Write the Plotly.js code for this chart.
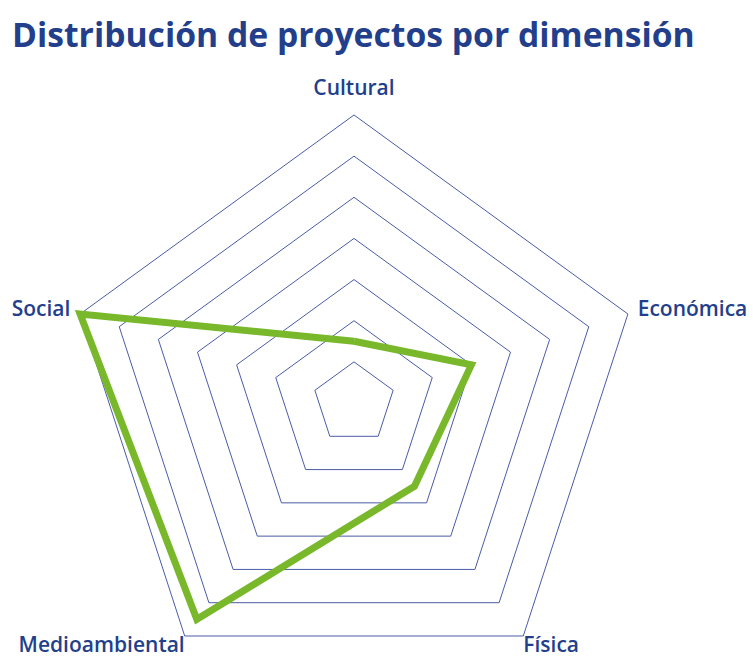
<!DOCTYPE html>
<html>
<head>
<meta charset="utf-8">
<script src="https://cdn.plot.ly/plotly-3.0.1.min.js"></script>
<style>
  html, body { margin: 0; padding: 0; overflow: hidden; background: #fff; }
  #chart { width: 755px; height: 740px; }
</style>
</head>
<body>
<div id="chart"></div>
<script>
// dimensiones y numero de proyectos
const dimensiones = ['Cultural', 'Económica', 'Física', 'Medioambiental', 'Social'];
const proyectos = [3, 6, 5, 13, 14];
const maximo = 14;

// donde va cada etiqueta (radio en unidades del eje y posicion del texto)
const radioEtiqueta = [15.25, 14.5, 14.0, 14.0, 14.5];
const posEtiqueta = ['middle center', 'middle right', 'bottom right', 'bottom left', 'middle left'];

const azul = '#233f8c';
const verde = '#78b82a';
const rejilla = '#4a5ca6';

// el eje llega un poco mas alla del maximo para dejar sitio a las etiquetas
const rangoMax = 15.5;
const H = 740;
const cx = 354, cy = 403, radioPx = 288 * rangoMax / maximo;

// cerrar el poligono
const theta = dimensiones.concat([dimensiones[0]]);
const r = proyectos.concat([proyectos[0]]);

const linea = {
  type: 'scatterpolar',
  mode: 'lines',
  r: r,
  theta: theta,
  line: { color: verde, width: 7 },
  showlegend: false
};

// etiquetas de las dimensiones, puestas con la escala polar
const etiquetas = {
  type: 'scatterpolar',
  mode: 'text',
  r: radioEtiqueta,
  theta: dimensiones,
  text: dimensiones,
  textposition: posEtiqueta,
  textfont: { family: 'Open Sans', size: 21, color: azul, weight: 600 },
  cliponaxis: false,
  showlegend: false
};

const layout = {
  width: 755,
  height: H,
  margin: { l: 0, r: 0, t: 0, b: 0 },
  paper_bgcolor: '#fff',
  title: {
    text: 'Distribución de proyectos por dimensión',
    x: 12 / 755,
    xanchor: 'left',
    xref: 'container',
    y: 1 - 35 / H,
    yanchor: 'middle',
    yref: 'container',
    font: { family: 'Open Sans', size: 33.7, color: azul, weight: 700 }
  },
  polar: {
    domain: {
      x: [(cx - radioPx) / 755, (cx + radioPx) / 755],
      y: [(H - cy - radioPx) / H, (H - cy + radioPx) / H]
    },
    gridshape: 'linear',
    bgcolor: 'rgba(0,0,0,0)',
    radialaxis: {
      range: [0, rangoMax],
      tickvals: [2, 4, 6, 8, 10, 12, 14],
      showticklabels: false,
      ticks: '',
      showline: false,
      gridcolor: rejilla,
      gridwidth: 1
    },
    angularaxis: {
      rotation: 90,
      direction: 'clockwise',
      showgrid: false,
      showline: false,
      ticks: '',
      showticklabels: false
    }
  }
};

Plotly.newPlot('chart', [linea, etiquetas], layout, { displayModeBar: false, staticPlot: true });
</script>
</body>
</html>
